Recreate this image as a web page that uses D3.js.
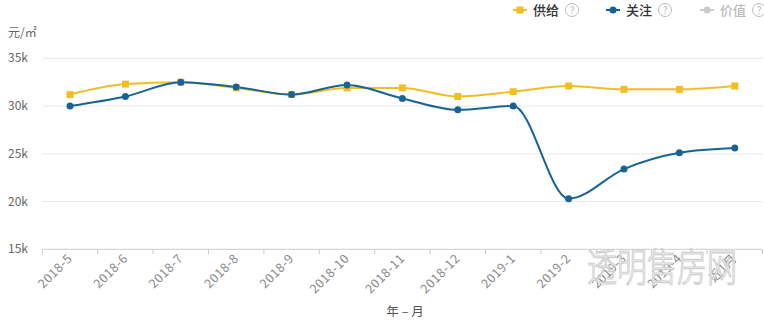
<!DOCTYPE html>
<html><head><meta charset="utf-8">
<script src="https://cdn.jsdelivr.net/npm/d3@7"></script>
<style>body{margin:0;background:#fff;}svg{display:block;font-family:"Noto Sans CJK SC","Noto Sans",sans-serif;}</style>
</head><body><svg id="c" width="764" height="324"></svg>
<script>
const categories = ["2018-5","2018-6","2018-7","2018-8","2018-9","2018-10","2018-11","2018-12","2019-1","2019-2","2019-3","2019-4","近1月"];
const supply = [31200,32300,32500,31900,31200,31900,31900,31000,31500,32100,31750,31750,32100];
const attention = [30000,31000,32500,32000,31200,32200,30800,29600,30000,20300,23400,25100,25600];
const yTicks = [15000,20000,25000,30000,35000];
const seriesNames = ["供给","关注","价值"];
const seriesColors = ["#f2bf23","#176395","#cccccc"];

const svg = d3.select("#c");
const x = d3.scaleBand().domain(categories).range([42.3, 762.5]);
const y = d3.scaleLinear().domain([15000,35000]).range([249.3, 58.3]);

// gridlines
svg.append("g").selectAll("line").data(yTicks.slice(1)).join("line")
  .attr("x1",42.3).attr("x2",763).attr("y1",d=>y(d)).attr("y2",d=>y(d))
  .attr("stroke","#e8e8e8").attr("stroke-width",1);

// y labels
svg.append("g").selectAll("text").data(yTicks).join("text")
  .attr("x",8).attr("y",d=>y(d)+4).attr("fill","#666").attr("font-size",12)
  .text(d=>(d/1000)+"k");
svg.append("text").attr("x",8).attr("y",37).attr("fill","#666").attr("font-size",12).text("元/㎡");

// x axis
const xa = svg.append("g").attr("transform","translate(0,249.3)");
xa.append("line").attr("x1",42.3).attr("x2",763).attr("stroke","#ccc");
const bounds = categories.map(c=>x(c)).concat([x.range()[1]]);
xa.selectAll("line.t").data(bounds).join("line").attr("class","t")
  .attr("x1",d=>d).attr("x2",d=>d).attr("y1",0).attr("y2",5).attr("stroke","#ccc");
xa.selectAll("text").data(categories).join("text")
  .attr("transform",d=>`translate(${x(d)+x.bandwidth()/2+3},10) rotate(-45)`)
  .attr("text-anchor","end").attr("fill","#888").attr("font-size",12.5).attr("letter-spacing",0.5)
  .text(d=>d);
svg.append("text").attr("x",405).attr("y",316).attr("text-anchor","middle")
  .attr("fill","#555").attr("font-size",12.5).text("年 – 月");

const cx = d=>x(d)+x.bandwidth()/2;
const line = d3.line().x((d,i)=>cx(categories[i])).y(d=>y(d)).curve(d3.curveMonotoneX);

svg.append("path").datum(supply).attr("d",line).attr("fill","none")
  .attr("stroke",seriesColors[0]).attr("stroke-width",2);
svg.append("path").datum(attention).attr("d",line).attr("fill","none")
  .attr("stroke",seriesColors[1]).attr("stroke-width",2);
svg.append("g").selectAll("rect").data(supply).join("rect")
  .attr("x",(d,i)=>cx(categories[i])-3.5).attr("y",d=>y(d)-3.5).attr("width",7).attr("height",7)
  .attr("fill",seriesColors[0]);
svg.append("g").selectAll("circle").data(attention).join("circle")
  .attr("cx",(d,i)=>cx(categories[i])).attr("cy",d=>y(d)).attr("r",3.5)
  .attr("fill",seriesColors[1]);

// watermark
svg.append("text").attr("transform","translate(662,281) scale(1,1.3)").attr("text-anchor","middle")
  .attr("font-size",30).attr("font-weight",300).attr("fill","#ffffff").attr("fill-opacity",0.85)
  .attr("stroke","#cfcfcf").attr("stroke-width",0.9)
  .text("透明售房网");

// legend
const lx = [513,606,700];
seriesNames.forEach((n,i)=>{
  const g = svg.append("g").attr("transform",`translate(${lx[i]},10)`);
  g.append("line").attr("x1",0).attr("x2",14).attr("stroke",seriesColors[i]).attr("stroke-width",2);
  if(i===0) g.append("rect").attr("x",3.5).attr("y",-3.5).attr("width",7).attr("height",7).attr("fill",seriesColors[i]);
  else g.append("circle").attr("cx",7).attr("r",3.5).attr("fill",seriesColors[i]);
  g.append("text").attr("x",20).attr("y",5).attr("font-size",13).attr("font-weight",500)
    .attr("fill",i===2?"#bbb":"#333").text(n);
  g.append("circle").attr("cx",59).attr("cy",0).attr("r",6.5).attr("fill","none").attr("stroke","#bbb");
  g.append("text").attr("x",59).attr("y",3.5).attr("text-anchor","middle").attr("font-size",10).attr("fill","#bbb").text("?");
});
</script></body></html>
